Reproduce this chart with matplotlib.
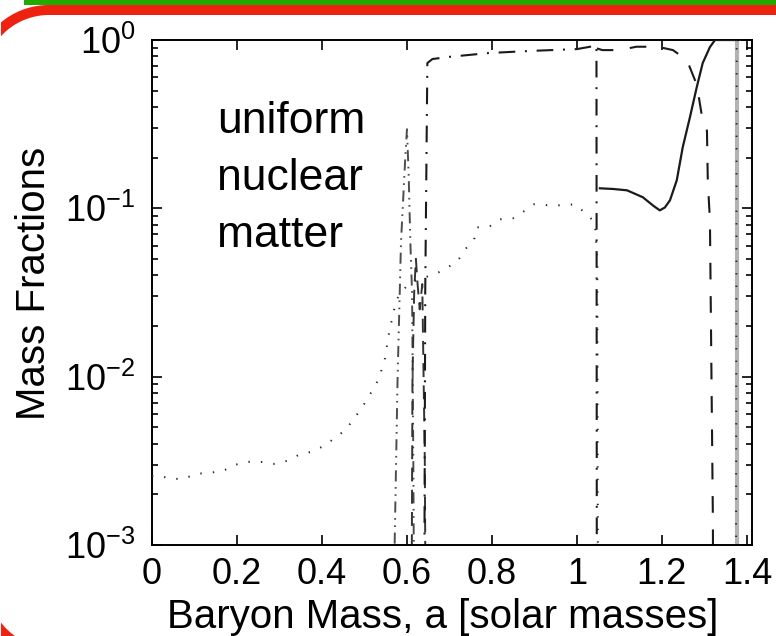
import numpy as np
import matplotlib
matplotlib.use("Agg")
import matplotlib.pyplot as plt
from matplotlib.patches import Polygon, Rectangle

# ================= SETTINGS =================
W_PX, H_PX, DPI = 776, 636, 100
FS_TICK = 26
FS_LABEL = 29
FS_NOTE = 32
RED = '#ee2211'
GREEN = '#22aa00'

plt.rcParams['font.family'] = ['Liberation Sans', 'DejaVu Sans']
plt.rcParams['mathtext.fontset'] = 'custom'
plt.rcParams['mathtext.rm'] = 'Liberation Sans'
plt.rcParams['mathtext.it'] = 'Liberation Sans:italic'
plt.rcParams['lines.scale_dashes'] = False
plt.rcParams['savefig.bbox'] = 'standard'

# ================= DATA =================
# dotted curve (rises through the cluster, flat ~0.1, drops at 1.05, back to 1 at the edge)
dot_x = [0.0, 0.012, 0.042, 0.073, 0.106, 0.136, 0.167, 0.195, 0.224, 0.256, 0.287,
         0.318, 0.346, 0.376, 0.405, 0.431, 0.456, 0.475, 0.494, 0.511, 0.527, 0.539,
         0.548, 0.553, 0.558, 0.565, 0.572, 0.58, 0.60, 0.62, 0.64, 0.659, 0.689, 0.72,
         0.739, 0.758, 0.765, 0.795, 0.819, 0.849, 0.875, 0.899, 0.934, 0.965, 0.995,
         1.021, 1.042, 1.048, 1.050, 1.374, 1.376, 1.41]
dot_logy = [-2.59, -2.583, -2.607, -2.607, -2.577, -2.571, -2.56, -2.524, -2.506, -2.506,
            -2.518, -2.50, -2.464, -2.446, -2.411, -2.363, -2.315, -2.25, -2.185, -2.113,
            -2.048, -1.970, -1.893, -1.815, -1.738, -1.655, -1.577, -1.52, -1.46, -1.43,
            -1.41, -1.399, -1.363, -1.31, -1.238, -1.185, -1.113, -1.107, -1.065, -1.06,
            -1.018, -0.976, -0.982, -0.982, -0.976, -1.03, -1.083, -1.3, -4.0, -4.0, 0.0, 0.0]

# dash-dot-dot spike near a = 0.6
spike_x = [0.567, 0.571, 0.578, 0.586, 0.596, 0.600, 0.604, 0.608, 0.612, 0.615, 0.618]
spike_logy = [-4.0, -3.0, -2.0, -1.2, -0.7, -0.53, -0.8, -1.2, -1.5, -2.5, -4.0]

# second broken line through the cluster
clus_x = [0.610, 0.613, 0.617, 0.621, 0.625, 0.630, 0.636, 0.642, 0.645]
clus_logy = [-4.0, -2.0, -1.5, -1.3, -1.45, -1.6, -1.45, -2.5, -4.0]

# dash-dot curve: jumps up at 0.648, plateau, drops at 1.047
dd_x = [0.640, 0.643, 0.648, 0.660, 0.700, 0.790, 0.850, 0.900, 0.980, 1.000, 1.040, 1.046, 1.047]
dd_logy = [-4.0, -1.5, -0.137, -0.113, -0.10, -0.078, -0.070, -0.064, -0.056, -0.054, -0.036, -0.03, -4.0]

# dashed curve: plateau from 1.05, falls near 1.31
dash_x = [1.047, 1.060, 1.100, 1.140, 1.190, 1.226, 1.259, 1.278, 1.285, 1.294, 1.306,
          1.308, 1.313, 1.320, 1.321]
dash_logy = [-0.05, -0.06, -0.06, -0.04, -0.04, -0.06, -0.12, -0.24, -0.31, -0.45, -0.54,
             -0.84, -1.07, -2.86, -4.0]

# solid curve
sol_x = [1.054, 1.085, 1.118, 1.155, 1.180, 1.195, 1.207, 1.219, 1.235, 1.249, 1.266,
         1.282, 1.296, 1.313, 1.325, 1.340, 1.376]
sol_logy = [-0.881, -0.885, -0.893, -0.934, -0.985, -1.012, -0.995, -0.952, -0.833, -0.637,
            -0.458, -0.28, -0.137, -0.042, 0.0, 0.0, 0.0]

edge_x = 1.376

x_ticks = [0, 0.2, 0.4, 0.6, 0.8, 1.0, 1.2, 1.4]
x_ticklabels = ['0', '0.2', '0.4', '0.6', '0.8', '1', '1.2', '1.4']
note_lines = ['uniform', 'nuclear', 'matter']


def to_y(logs):
    return 10.0 ** np.asarray(logs, dtype=float)


def arc(cx, cy_top, r, a0, a1, n=60):
    # arc in pixel units, y measured from the top of the image
    t = np.radians(np.linspace(a0, a1, n))
    return np.c_[cx + r * np.cos(t), cy_top - r * np.sin(t)]


def to_fig(pts):
    # keep the shape a pixel off the left edge, then go to figure fractions
    pts = np.asarray(pts, dtype=float)
    x = np.maximum(pts[:, 0], 1.0)
    return np.c_[x / W_PX, 1 - pts[:, 1] / H_PX]


fig = plt.figure(figsize=(W_PX / DPI, H_PX / DPI), dpi=DPI)
ax = fig.add_axes([152 / W_PX, 91 / H_PX, 600 / W_PX, 505 / H_PX])

ax.axvline(edge_x, color='0.7', lw=3.0, zorder=1)
ax.plot(dot_x, to_y(dot_logy), color='0.15', lw=1.4, dashes=(1.0, 8.0), zorder=3)
ax.plot(spike_x, to_y(spike_logy), color='0.3', lw=1.4, dashes=(8, 4, 1.2, 4, 1.2, 4), zorder=2)
ax.plot(clus_x, to_y(clus_logy), color='0.2', lw=1.4, dashes=(10, 6), zorder=2)
ax.plot(dd_x, to_y(dd_logy), color='0.1', lw=1.5, dashes=(12, 7, 1.4, 7), zorder=2)
ax.plot(dash_x, to_y(dash_logy), color='0.1', lw=1.5, dashes=(12, 12), zorder=2)
ax.plot(sol_x, to_y(sol_logy), color='0.1', lw=1.6, zorder=4)

ax.set_yscale('log')
ax.set_xlim(0, 1.412)
ax.set_ylim(1e-3, 1)
ax.set_xticks(x_ticks)
ax.set_xticklabels(x_ticklabels)
ax.tick_params(which='both', direction='in', top=True, right=True, labelsize=FS_TICK,
               width=1.2)
ax.tick_params(which='major', length=7)
ax.tick_params(which='minor', length=4)
ax.tick_params(axis='x', pad=9)
ax.tick_params(axis='y', pad=12)
for s in ax.spines.values():
    s.set_linewidth(1.4)

ax.set_xlabel('Baryon Mass, a [solar masses]', fontsize=FS_LABEL)
ax.set_ylabel('Mass Fractions', fontsize=FS_LABEL)
ax.xaxis.set_label_coords(0.485, -0.105)
ax.yaxis.set_label_coords(-0.165, 0.519)

ax.text(0.153, 10 ** -0.36, '\n'.join(note_lines), fontsize=FS_NOTE, ha='left', va='top',
        linespacing=1.5)

# slide frame: green bar on top, red rounded border (only the visible parts)
tf = fig.transFigure
fig.add_artist(Rectangle((24 / W_PX, 1 - 5 / H_PX), 1 - 24 / W_PX, 5 / H_PX,
                         facecolor=GREEN, edgecolor='none', transform=tf))
top_band = np.vstack([arc(49, 80, 75, 130.8, 90), [(W_PX, 5), (W_PX, 15)],
                      arc(49, 80, 65, 90, 139.0)])
fig.add_artist(Polygon(to_fig(top_band), closed=True, facecolor=RED, edgecolor='none',
                       transform=tf))
bottom_band = np.vstack([[(0, H_PX)], arc(52.6, 583, 65, 216, 234.6)])
fig.add_artist(Polygon(to_fig(bottom_band), closed=True, facecolor=RED, edgecolor='none',
                       transform=tf))

fig.savefig('out.png', dpi=DPI)
